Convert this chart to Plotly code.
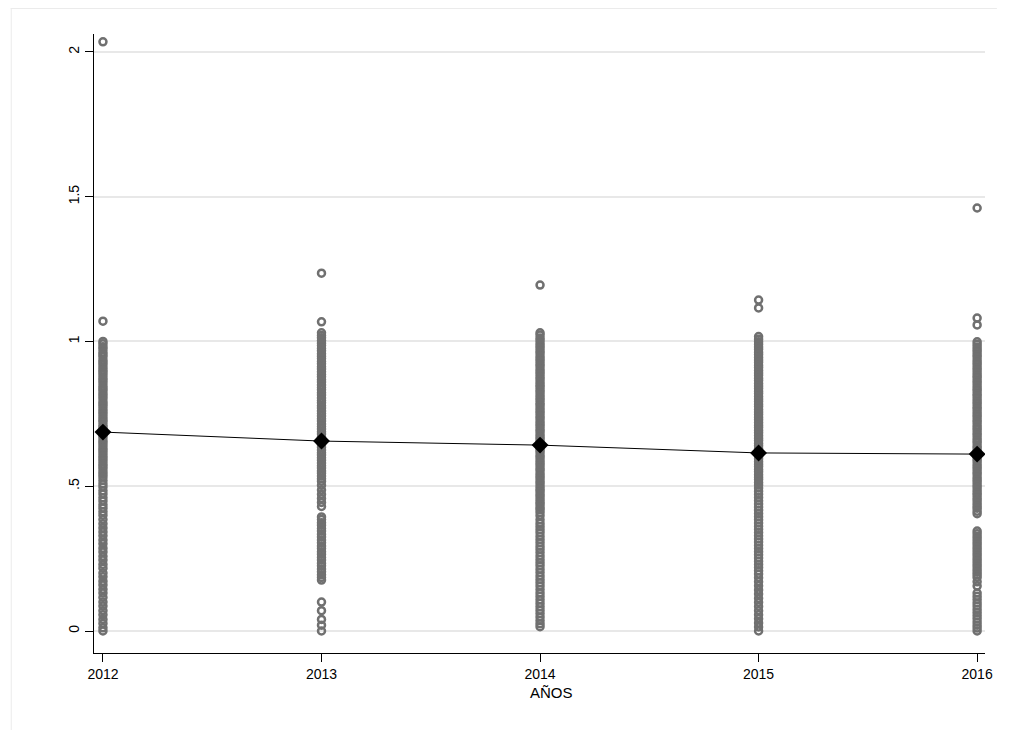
import plotly.graph_objects as go

years = [2012, 2013, 2014, 2015, 2016]
year_labels = ["2012", "2013", "2014", "2015", "2016"]

y2012 = [2.035, 1.07,
         1.0, 0.992, 0.982, 0.974, 0.963, 0.955, 0.947, 0.936, 0.928, 0.92, 0.91, 0.901, 0.893,
         0.884, 0.874, 0.866, 0.857, 0.846, 0.838, 0.83, 0.82, 0.812, 0.803, 0.792, 0.784, 0.776,
         0.766, 0.757, 0.749, 0.739, 0.73, 0.722, 0.711, 0.703, 0.695, 0.685, 0.677, 0.668, 0.658,
         0.65, 0.641, 0.631, 0.623, 0.614, 0.604, 0.596, 0.587, 0.577, 0.569, 0.56, 0.55, 0.541,
         0.532, 0.52, 0.508, 0.497, 0.484, 0.473, 0.46, 0.449, 0.436, 0.425, 0.412, 0.4, 0.385,
         0.37, 0.356, 0.342, 0.329, 0.314, 0.301, 0.286, 0.273, 0.258, 0.245, 0.23, 0.217, 0.2,
         0.187, 0.172, 0.159, 0.144, 0.131, 0.116, 0.1, 0.086, 0.07, 0.056, 0.04, 0.026, 0.011, 0.0]
y2013 = [1.236, 1.068,
         1.03, 1.021, 1.013, 1.003, 0.994, 0.986, 0.976, 0.968, 0.958, 0.949, 0.941, 0.931, 0.923,
         0.913, 0.905, 0.895, 0.886, 0.878, 0.868, 0.86, 0.85, 0.841, 0.833, 0.823, 0.815, 0.805,
         0.796, 0.788, 0.778, 0.77, 0.76, 0.751, 0.743, 0.733, 0.725, 0.715, 0.706, 0.698, 0.688,
         0.68, 0.67, 0.661, 0.653, 0.643, 0.635, 0.625, 0.616, 0.608, 0.598, 0.59, 0.58, 0.571,
         0.563, 0.553, 0.545, 0.535, 0.526, 0.517, 0.503, 0.487, 0.472, 0.458, 0.444, 0.43,
         0.394, 0.385, 0.374, 0.365, 0.354, 0.345, 0.334, 0.325, 0.314, 0.305, 0.294, 0.285,
         0.274, 0.265, 0.254, 0.245, 0.234, 0.225, 0.214, 0.205, 0.194, 0.185, 0.176,
         0.1, 0.07, 0.04, 0.02, 0.0]
y2014 = [1.195,
         1.03, 1.022, 1.012, 1.004, 0.994, 0.985, 0.977, 0.967, 0.959, 0.949, 0.94, 0.932, 0.922,
         0.914, 0.904, 0.895, 0.887, 0.877, 0.869, 0.859, 0.85, 0.842, 0.832, 0.824, 0.814, 0.805,
         0.797, 0.787, 0.779, 0.769, 0.76, 0.752, 0.742, 0.734, 0.724, 0.715, 0.707, 0.697, 0.689,
         0.679, 0.67, 0.662, 0.652, 0.644, 0.634, 0.625, 0.617, 0.607, 0.599, 0.589, 0.58, 0.572,
         0.562, 0.554, 0.544, 0.535, 0.527, 0.517, 0.509, 0.499, 0.49, 0.482, 0.472, 0.464, 0.454,
         0.445, 0.437, 0.427, 0.419, 0.409, 0.398, 0.384, 0.372, 0.361, 0.35, 0.339, 0.327, 0.316,
         0.305, 0.293, 0.282, 0.271, 0.259, 0.247, 0.236, 0.225, 0.213, 0.202, 0.19, 0.178, 0.167,
         0.155, 0.143, 0.131, 0.12, 0.108, 0.096, 0.084, 0.072, 0.06, 0.048, 0.036, 0.025, 0.015]
y2015 = [1.143, 1.116,
         1.017, 1.008, 0.999, 0.99, 0.981, 0.973, 0.963, 0.955, 0.945, 0.936, 0.928, 0.918, 0.91,
         0.9, 0.891, 0.883, 0.873, 0.865, 0.855, 0.846, 0.838, 0.828, 0.82, 0.81, 0.801, 0.793,
         0.783, 0.775, 0.765, 0.756, 0.748, 0.738, 0.73, 0.72, 0.711, 0.703, 0.693, 0.685, 0.675,
         0.666, 0.658, 0.648, 0.64, 0.63, 0.621, 0.613, 0.603, 0.595, 0.585, 0.576, 0.568, 0.558,
         0.55, 0.54, 0.531, 0.523, 0.513, 0.504, 0.494, 0.483, 0.472, 0.461, 0.45, 0.439, 0.428,
         0.417, 0.406, 0.395, 0.384, 0.373, 0.362, 0.351, 0.34, 0.329, 0.318, 0.307, 0.296, 0.285,
         0.274, 0.263, 0.252, 0.241, 0.23, 0.219, 0.208, 0.197, 0.184, 0.17, 0.156, 0.142, 0.128,
         0.113, 0.099, 0.085, 0.07, 0.056, 0.042, 0.028, 0.014, 0.0]
y2016 = [1.461, 1.081, 1.057,
         0.999, 0.99, 0.981, 0.972, 0.964, 0.954, 0.946, 0.936, 0.927, 0.919, 0.909, 0.901, 0.891,
         0.882, 0.874, 0.864, 0.856, 0.846, 0.837, 0.829, 0.819, 0.811, 0.801, 0.792, 0.784, 0.774,
         0.766, 0.756, 0.747, 0.739, 0.729, 0.721, 0.711, 0.702, 0.694, 0.684, 0.676, 0.666, 0.657,
         0.649, 0.639, 0.631, 0.621, 0.612, 0.604, 0.594, 0.586, 0.576, 0.567, 0.559, 0.549, 0.541,
         0.531, 0.522, 0.514, 0.504, 0.496, 0.486, 0.477, 0.469, 0.459, 0.451, 0.441, 0.432, 0.424,
         0.414, 0.405,
         0.345, 0.336, 0.326, 0.317, 0.307, 0.298, 0.288, 0.279, 0.269, 0.26, 0.25, 0.241, 0.231,
         0.222, 0.212, 0.203, 0.194, 0.185, 0.17, 0.155, 0.131, 0.12, 0.109, 0.097, 0.086, 0.075,
         0.064, 0.053, 0.042, 0.031, 0.02, 0.01, 0.0]

means = [0.687, 0.656, 0.642, 0.615, 0.611]

y_tick_vals = [0, 0.5, 1, 1.5, 2]
y_tick_text = ["0", ".5", "1", "1.5", "2"]
x_title = "AÑOS"

series = [y2012, y2013, y2014, y2015, y2016]

fig = go.Figure()
for yr, vals in zip(years, series):
    fig.add_trace(go.Scatter(
        x=[yr] * len(vals), y=vals, mode="markers",
        marker=dict(symbol="circle-open", size=7, color="#707070",
                    line=dict(width=2.5, color="#707070")),
        showlegend=False, hoverinfo="y"))

fig.add_trace(go.Scatter(
    x=years, y=means, mode="lines+markers",
    line=dict(color="black", width=1),
    marker=dict(symbol="diamond", size=13, color="black"),
    showlegend=False))

# figure is placed 8px in from the page corner by the page margin
W, H = 997, 722
L, T = 86, 26
R = W - 985
B = H - 645
pw, ph = W - L - R, H - T - B

def px(xp):
    return (xp - L) / pw

def py(yp):
    return (H - B - yp) / ph

fig.add_shape(type="line", xref="paper", yref="paper", x0=px(2), x1=px(W),
              y0=py(0.5), y1=py(0.5), line=dict(color="#ebebeb", width=1))
fig.add_shape(type="line", xref="paper", yref="paper", x0=px(2.5), x1=px(2.5),
              y0=py(0), y1=py(H), line=dict(color="#ebebeb", width=1))

fig.add_annotation(text=x_title, xref="paper", yref="paper", x=px(548), y=py(684),
                   xanchor="center", yanchor="middle", showarrow=False,
                   font=dict(size=15, color="black"))

fig.update_layout(
    width=W, height=H,
    margin=dict(l=L, r=R, t=T, b=B),
    paper_bgcolor="white", plot_bgcolor="white",
    font=dict(family="Liberation Sans, Arial, sans-serif", size=14, color="black"),
    xaxis=dict(range=[2011.959, 2016.036], tickvals=years, ticktext=year_labels,
               showgrid=False, zeroline=False, showline=True, linecolor="black",
               linewidth=1, ticks="outside", ticklen=8, tickcolor="black",
               tickfont=dict(size=14)),
    yaxis=dict(range=[-0.076, 2.062], tickvals=y_tick_vals, ticktext=y_tick_text,
               tickangle=-90, showgrid=True, gridcolor="#e8e8e8", gridwidth=2,
               zeroline=False, showline=True, linecolor="black", linewidth=1,
               ticks="outside", ticklen=8, tickcolor="black", tickfont=dict(size=14)),
)

fig.write_html("out.html")
